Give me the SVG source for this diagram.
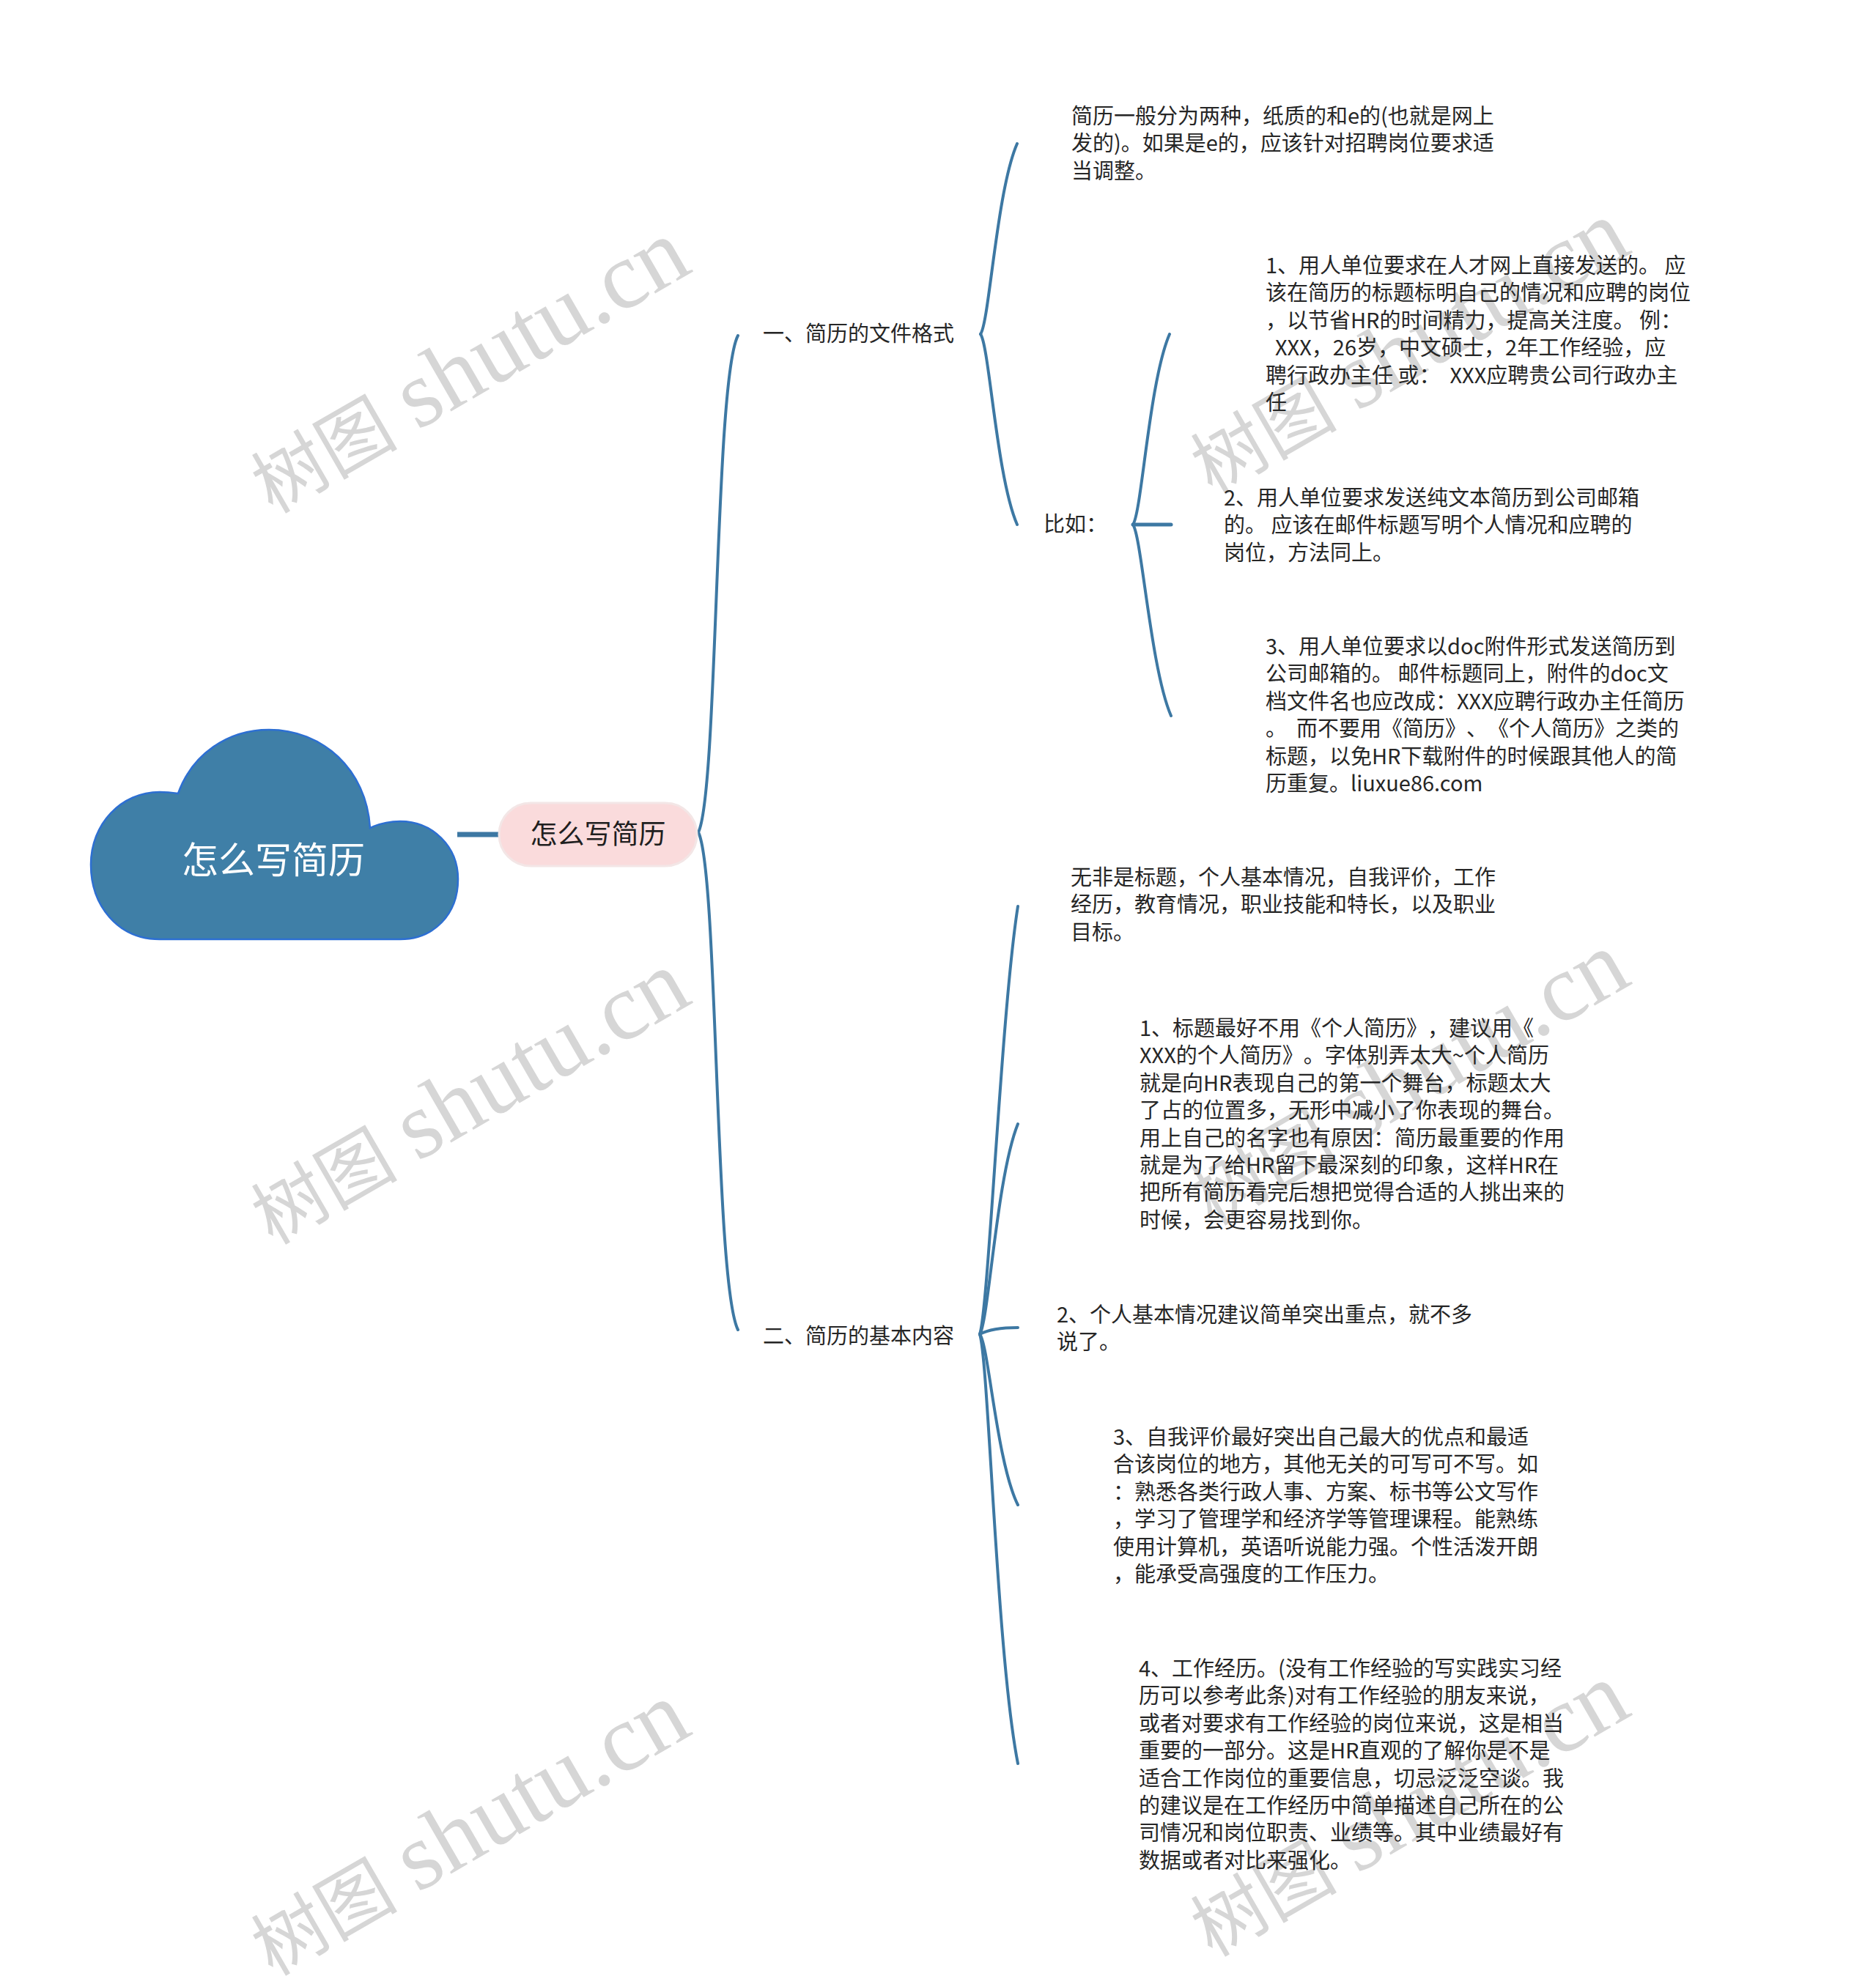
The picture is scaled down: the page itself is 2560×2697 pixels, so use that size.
<svg xmlns="http://www.w3.org/2000/svg" width="2560" height="2697" viewBox="0 0 2560 2697">
<style>
.wm { font-family: "Liberation Serif", "Noto Sans CJK SC", serif; fill: #d6d6d6; }
.wm .cj { font-family: "Noto Sans CJK SC", serif; font-size: 100px; }
.wm .la { font-size: 130px; }
.t { font-family: "Noto Sans CJK SC", "Noto Sans", sans-serif; font-size: 29px; fill: #262626; text-spacing-trim: space-all; }
.c { fill: none; stroke: #3d78a3; stroke-width: 4; stroke-linecap: round; }
</style>
<rect x="0" y="0" width="2560" height="2697" fill="#ffffff"/>
<g id="watermark" class="wm">
  <text transform="translate(372,702) rotate(-30)"><tspan class="cj">树图</tspan><tspan class="la" dx="28">shutu.cn</tspan></text>
  <text transform="translate(372,1700) rotate(-30)"><tspan class="cj">树图</tspan><tspan class="la" dx="28">shutu.cn</tspan></text>
  <text transform="translate(372,2698) rotate(-30)"><tspan class="cj">树图</tspan><tspan class="la" dx="28">shutu.cn</tspan></text>
  <text transform="translate(1654,676) rotate(-30)"><tspan class="cj">树图</tspan><tspan class="la" dx="28">shutu.cn</tspan></text>
  <text transform="translate(1654,1674) rotate(-30)"><tspan class="cj">树图</tspan><tspan class="la" dx="28">shutu.cn</tspan></text>
  <text transform="translate(1654,2672) rotate(-30)"><tspan class="cj">树图</tspan><tspan class="la" dx="28">shutu.cn</tspan></text>
</g>
<g id="connectors">
  <line x1="624" y1="1139" x2="681" y2="1139" stroke="#3d78a3" stroke-width="7"/>
  <path class="c" d="M953,1136 C980,1080 975,520 1007,458"/>
  <path class="c" d="M953,1136 C980,1190 975,1750 1007,1815"/>
  <path class="c" d="M1338,456 C1350,440 1360,260 1388,196"/>
  <path class="c" d="M1338,456 C1350,472 1360,652 1388,716"/>
  <path class="c" d="M1546,716 C1558,700 1568,521 1596,456"/>
  <path class="c" d="M1546,716 L1598,716" style="stroke-width:5"/>
  <path class="c" d="M1546,716 C1558,732 1570,912 1598,977"/>
  <path class="c" d="M1337,1821 C1349,1786 1366,1383 1389,1237"/>
  <path class="c" d="M1337,1821 C1349,1804 1360,1606 1389,1534"/>
  <path class="c" d="M1337,1821 C1350,1814 1370,1812 1389,1812"/>
  <path class="c" d="M1337,1821 C1349,1835 1360,1996 1389,2054"/>
  <path class="c" d="M1337,1821 C1349,1856 1360,2260 1389,2407"/>
</g>
<g id="root">
  <path d="M218,1282 C160,1282 124,1235 124,1180 C124,1125 165,1081 218,1081 C228,1081 236,1082 243,1083 C262,1030 310,996 367,996 C440,996 500,1050 505,1130 C518,1124 532,1121 546,1121 C590,1121 625,1155 625,1200 C625,1248 592,1282 546,1282 Z" fill="#3f7fa7" stroke="#2d6fd2" stroke-width="2.5"/>
  <text x="373" y="1192" text-anchor="middle" font-family="Noto Sans CJK SC, sans-serif" font-size="50" fill="#ffffff">怎么写简历</text>
</g>
<g id="topic">
  <rect x="681" y="1096" width="270" height="86" rx="43" ry="43" fill="#fadbdc" stroke="#f3e6e6" stroke-width="3"/>
  <text x="816" y="1152" text-anchor="middle" font-family="Noto Sans CJK SC, sans-serif" font-size="37" fill="#1f1f1f">怎么写简历</text>
</g>
<g id="branch1">
  <text class="t" x="1041" y="466">一、简历的文件格式</text>
</g>
<g id="branch2">
  <text class="t" x="1041" y="1834">二、简历的基本内容</text>
</g>
<g id="b1-intro">
  <text class="t" x="1462" y="169">
    <tspan x="1462">简历一般分为两种，纸质的和e的(也就是网上</tspan>
    <tspan x="1462" dy="37.4">发的)。如果是e的，应该针对招聘岗位要求适</tspan>
    <tspan x="1462" dy="37.4">当调整。</tspan>
  </text>
</g>
<g id="b1-eg">
  <text class="t" x="1424" y="726">比如：</text>
</g>
<g id="eg1">
  <text class="t" x="1727" y="373" xml:space="preserve"><tspan x="1727">1、用人单位要求在人才网上直接发送的。 应</tspan><tspan x="1727" dy="37.4">该在简历的标题标明自己的情况和应聘的岗位</tspan><tspan x="1727" dy="37.4">，以节省HR的时间精力，提高关注度。 例：</tspan><tspan x="1727" dy="37.4">  XXX，26岁，中文硕士，2年工作经验，应</tspan><tspan x="1727" dy="37.4">聘行政办主任 或：  XXX应聘贵公司行政办主</tspan><tspan x="1727" dy="37.4">任</tspan></text>
</g>
<g id="eg2">
  <text class="t" x="1670" y="690" xml:space="preserve"><tspan x="1670">2、用人单位要求发送纯文本简历到公司邮箱</tspan><tspan x="1670" dy="37.4">的。 应该在邮件标题写明个人情况和应聘的</tspan><tspan x="1670" dy="37.4">岗位，方法同上。</tspan></text>
</g>
<g id="eg3">
  <text class="t" x="1727" y="893" xml:space="preserve"><tspan x="1727">3、用人单位要求以doc附件形式发送简历到</tspan><tspan x="1727" dy="37.4">公司邮箱的。 邮件标题同上，附件的doc文</tspan><tspan x="1727" dy="37.4">档文件名也应改成：XXX应聘行政办主任简历</tspan><tspan x="1727" dy="37.4">。  而不要用《简历》、《个人简历》之类的</tspan><tspan x="1727" dy="37.4">标题，以免HR下载附件的时候跟其他人的简</tspan><tspan x="1727" dy="37.4">历重复。liuxue86.com</tspan></text>
</g>
<g id="b2-intro">
  <text class="t" x="1461" y="1208"><tspan x="1461">无非是标题，个人基本情况，自我评价，工作</tspan><tspan x="1461" dy="37.4">经历，教育情况，职业技能和特长，以及职业</tspan><tspan x="1461" dy="37.4">目标。</tspan></text>
</g>
<g id="b2-1">
  <text class="t" x="1555" y="1414"><tspan x="1555">1、标题最好不用《个人简历》，建议用《</tspan><tspan x="1555" dy="37.4">XXX的个人简历》。字体别弄太大~个人简历</tspan><tspan x="1555" dy="37.4">就是向HR表现自己的第一个舞台，标题太大</tspan><tspan x="1555" dy="37.4">了占的位置多，无形中减小了你表现的舞台。</tspan><tspan x="1555" dy="37.4">用上自己的名字也有原因：简历最重要的作用</tspan><tspan x="1555" dy="37.4">就是为了给HR留下最深刻的印象，这样HR在</tspan><tspan x="1555" dy="37.4">把所有简历看完后想把觉得合适的人挑出来的</tspan><tspan x="1555" dy="37.4">时候，会更容易找到你。</tspan></text>
</g>
<g id="b2-2">
  <text class="t" x="1442" y="1805"><tspan x="1442">2、个人基本情况建议简单突出重点，就不多</tspan><tspan x="1442" dy="37.4">说了。</tspan></text>
</g>
<g id="b2-3">
  <text class="t" x="1519" y="1972"><tspan x="1519">3、自我评价最好突出自己最大的优点和最适</tspan><tspan x="1519" dy="37.4">合该岗位的地方，其他无关的可写可不写。如</tspan><tspan x="1519" dy="37.4">：熟悉各类行政人事、方案、标书等公文写作</tspan><tspan x="1519" dy="37.4">，学习了管理学和经济学等管理课程。能熟练</tspan><tspan x="1519" dy="37.4">使用计算机，英语听说能力强。个性活泼开朗</tspan><tspan x="1519" dy="37.4">，能承受高强度的工作压力。</tspan></text>
</g>
<g id="b2-4">
  <text class="t" x="1554" y="2288"><tspan x="1554">4、工作经历。(没有工作经验的写实践实习经</tspan><tspan x="1554" dy="37.4">历可以参考此条)对有工作经验的朋友来说，</tspan><tspan x="1554" dy="37.4">或者对要求有工作经验的岗位来说，这是相当</tspan><tspan x="1554" dy="37.4">重要的一部分。这是HR直观的了解你是不是</tspan><tspan x="1554" dy="37.4">适合工作岗位的重要信息，切忌泛泛空谈。我</tspan><tspan x="1554" dy="37.4">的建议是在工作经历中简单描述自己所在的公</tspan><tspan x="1554" dy="37.4">司情况和岗位职责、业绩等。其中业绩最好有</tspan><tspan x="1554" dy="37.4">数据或者对比来强化。</tspan></text>
</g>
</svg>
